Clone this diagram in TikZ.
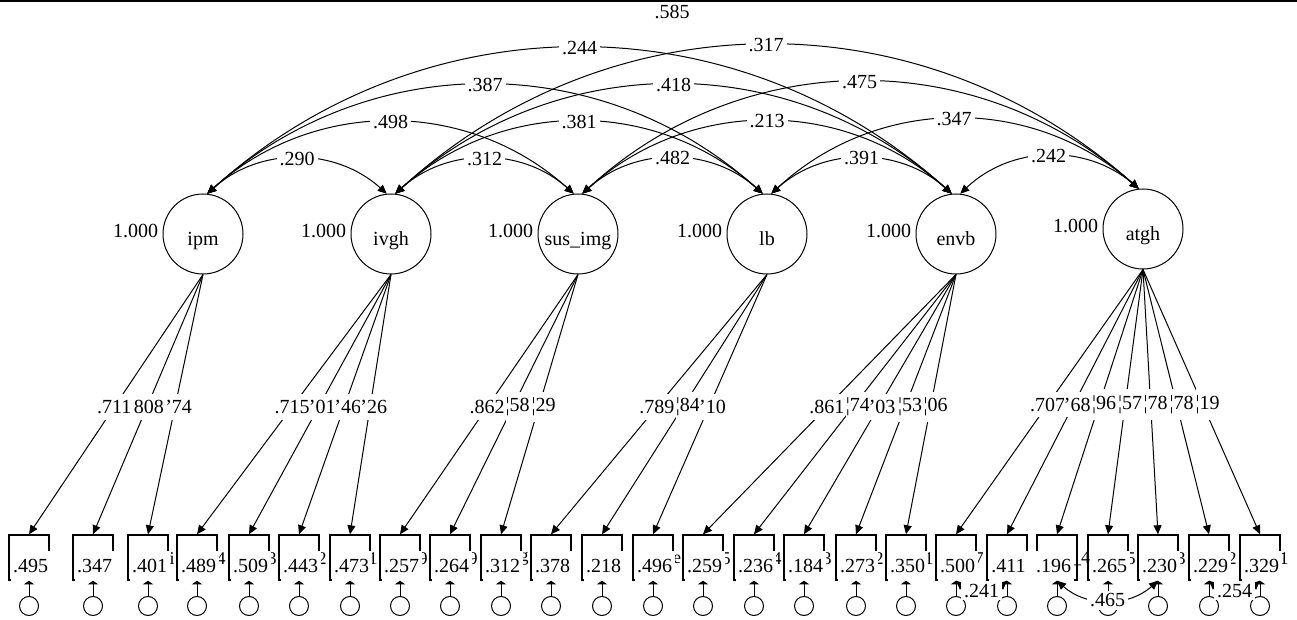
\documentclass[tikz,border=0pt]{standalone}
\usepackage{fontspec}
\setmainfont{Liberation Serif}
\usetikzlibrary{arrows.meta}

\begin{document}
\begin{tikzpicture}[
    x=0.5pt, y=-0.5pt,
    font=\fontsize{10}{12}\selectfont,
    >={Triangle[length=4.5pt,width=4pt]},
    Lat/.style={circle, draw, line width=0.5pt, minimum size=40pt, inner sep=0pt, text height=11.5pt, text depth=0pt, label={[Vlbl]left:1.000}},
    Vlbl/.style={inner sep=2pt, text height=, text depth=, yshift=1.5pt},
    Obox/.style={rectangle, draw, line width=0.7pt, minimum width=20pt, minimum height=22.5pt, inner sep=0pt},
    Ecirc/.style={circle, draw, line width=0.5pt, minimum size=9.5pt, inner sep=0pt},
    ld/.style={->, line width=0.5pt},
    cv/.style={<->, line width=0.5pt},
    ep/.style={-{Triangle[length=1.8pt,width=5pt]}, line width=0.5pt},
    Wl/.style={fill=white, inner xsep=0.5pt, inner ysep=3pt, pos=.51},
    Wf/.style={Wl, inner xsep=0pt, anchor=east, xshift=8.75pt},
    Cw/.style={fill=white, inner sep=1.5pt},
    R2/.style={fill=white, inner xsep=1.25pt, inner ysep=0pt, minimum height=15pt},
    res/.style={font=\fontsize{9}{10}\selectfont, inner sep=0pt},
]
\useasboundingbox (0,0) rectangle (1297,620);
\draw[line width=0.75pt] (0,1) -- (1297,1);

% latent variables
\node[Lat] (ipm) at (203,234) {ipm};
\node[Lat] (ivgh) at (391,234) {ivgh};
\node[Lat] (sus) at (578,234) {sus\_img};
\node[Lat] (lb) at (767,234) {lb};
\node[Lat] (envb) at (956,234) {envb};
\node[Lat] (atgh) at (1143,229) {atgh};

% observed indicators
\node[Obox] (b1) at (29,557.5) {};
\node[Obox] (b2) at (93,557.5) {};
\node[Obox] (b3) at (148,557.5) {};
\node[Obox] (b4) at (197,557.5) {};
\node[Obox] (b5) at (249,557.5) {};
\node[Obox] (b6) at (299,557.5) {};
\node[Obox] (b7) at (350,557.5) {};
\node[Obox] (b8) at (400,557.5) {};
\node[Obox] (b9) at (450,557.5) {};
\node[Obox] (b10) at (501,557.5) {};
\node[Obox] (b11) at (551,557.5) {};
\node[Obox] (b12) at (602,557.5) {};
\node[Obox] (b13) at (653,557.5) {};
\node[Obox] (b14) at (703,557.5) {};
\node[Obox] (b15) at (754,557.5) {};
\node[Obox] (b16) at (804,557.5) {};
\node[Obox] (b17) at (856,557.5) {};
\node[Obox] (b18) at (906,557.5) {};
\node[Obox] (b19) at (956,557.5) {};
\node[Obox] (b20) at (1007,557.5) {};
\node[Obox] (b21) at (1057,557.5) {};
\node[Obox] (b22) at (1108,557.5) {};
\node[Obox] (b23) at (1158,557.5) {};
\node[Obox] (b24) at (1209,557.5) {};
\node[Obox] (b25) at (1260,557.5) {};

% name ends that stick out
\node[res] (n3) at (172,559) {i};
\node[res] (n4) at (221,559) {4};
\node[res] (n5) at (272,559) {3};
\node[res] (n6) at (322,559) {2};
\node[res] (n7) at (373,559) {1};
\node[res] (n8) at (423,559) {9};
\node[res] (n9) at (473,559) {9};
\node[res] (n10) at (524,559) {g};
\node[res] (n13) at (677,559) {e};
\node[res] (n14) at (726,559) {5};
\node[res] (n15) at (777,559) {4};
\node[res] (n16) at (827,559) {3};
\node[res] (n17) at (879,559) {2};
\node[res] (n18) at (929,559) {1};
\node[res] (n19) at (979,559) {7};
\node[res] (n21) at (1081,559) {\_4};
\node[res] (n22) at (1131,559) {5};
\node[res] (n23) at (1181,559) {3};
\node[res] (n24) at (1232,559) {2};
\node[res] (n25) at (1284,559) {1};

% squared multiple correlations
\node[R2] (r1) at (30.5,566) {.495};
\node[R2] (r2) at (94.5,566) {.347};
\node[R2] (r3) at (149.5,566) {.401};
\node[R2] (r4) at (198.5,566) {.489};
\node[R2] (r5) at (250.5,566) {.509};
\node[R2] (r6) at (300.5,566) {.443};
\node[R2] (r7) at (351.5,566) {.473};
\node[R2] (r8) at (401.5,566) {.257};
\node[R2] (r9) at (451.5,566) {.264};
\node[R2] (r10) at (502.5,566) {.312};
\node[R2] (r11) at (552.5,566) {.378};
\node[R2] (r12) at (603.5,566) {.218};
\node[R2] (r13) at (654.5,566) {.496};
\node[R2] (r14) at (704.5,566) {.259};
\node[R2] (r15) at (755.5,566) {.236};
\node[R2] (r16) at (805.5,566) {.184};
\node[R2] (r17) at (857.5,566) {.273};
\node[R2] (r18) at (907.5,566) {.350};
\node[R2] (r19) at (957.5,566) {.500};
\node[R2] (r20) at (1008.5,566) {.411};
\node[R2] (r21) at (1053.5,566) {.196};
\node[R2] (r22) at (1109.5,566) {.265};
\node[R2] (r23) at (1159.5,566) {.230};
\node[R2] (r24) at (1210.5,566) {.229};
\node[R2] (r25) at (1261.5,566) {.329};

% loadings
\draw[ld] (ipm.south) -- node[Wl]{.711} (b1.north);
\draw[ld] (ipm.south) -- node[Wf]{808} (b2.north);
\draw[ld] (ipm.south) -- node[Wf]{'74} (b3.north);
\draw[ld] (ivgh.south) -- node[Wl]{.715} (b4.north);
\draw[ld] (ivgh.south) -- node[Wf]{'01} (b5.north);
\draw[ld] (ivgh.south) -- node[Wf]{'46} (b6.north);
\draw[ld] (ivgh.south) -- node[Wf]{'26} (b7.north);
\draw[ld] (sus.south) -- node[Wl]{.862} (b8.north);
\draw[ld] (sus.south) -- node[Wf]{¦58} (b9.north);
\draw[ld] (sus.south) -- node[Wf]{¦29} (b10.north);
\draw[ld] (lb.south) -- node[Wl]{.789} (b11.north);
\draw[ld] (lb.south) -- node[Wf]{¦84} (b12.north);
\draw[ld] (lb.south) -- node[Wf]{'10} (b13.north);
\draw[ld] (envb.south) -- node[Wl]{.861} (b14.north);
\draw[ld] (envb.south) -- node[Wf]{¦74} (b15.north);
\draw[ld] (envb.south) -- node[Wf]{'03} (b16.north);
\draw[ld] (envb.south) -- node[Wf]{¦53} (b17.north);
\draw[ld] (envb.south) -- node[Wf]{¦06} (b18.north);
\draw[ld] (atgh.south) -- node[Wl]{.707} (b19.north);
\draw[ld] (atgh.south) -- node[Wf]{'68} (b20.north);
\draw[ld] (atgh.south) -- node[Wf]{¦96} (b21.north);
\draw[ld] (atgh.south) -- node[Wf]{¦57} (b22.north);
\draw[ld] (atgh.south) -- node[Wf]{¦78} (b23.north);
\draw[ld] (atgh.south) -- node[Wf]{¦78} (b24.north);
\draw[ld] (atgh.south) -- node[Wf]{¦19} (b25.north);

% error terms
\node[Ecirc] (e1) at (29,606) {};
\node[Ecirc] (e2) at (93,606) {};
\node[Ecirc] (e3) at (148,606) {};
\node[Ecirc] (e4) at (197,606) {};
\node[Ecirc] (e5) at (249,606) {};
\node[Ecirc] (e6) at (299,606) {};
\node[Ecirc] (e7) at (350,606) {};
\node[Ecirc] (e8) at (400,606) {};
\node[Ecirc] (e9) at (450,606) {};
\node[Ecirc] (e10) at (501,606) {};
\node[Ecirc] (e11) at (551,606) {};
\node[Ecirc] (e12) at (602,606) {};
\node[Ecirc] (e13) at (653,606) {};
\node[Ecirc] (e14) at (703,606) {};
\node[Ecirc] (e15) at (754,606) {};
\node[Ecirc] (e16) at (804,606) {};
\node[Ecirc] (e17) at (856,606) {};
\node[Ecirc] (e18) at (906,606) {};
\node[Ecirc] (e19) at (956,606) {};
\node[Ecirc] (e20) at (1007,606) {};
\node[Ecirc] (e21) at (1057,606) {};
\node[Ecirc] (e22) at (1108,606) {};
\node[Ecirc] (e23) at (1158,606) {};
\node[Ecirc] (e24) at (1209,606) {};
\node[Ecirc] (e25) at (1260,606) {};
\draw[ep] (e1) -- (b1);
\draw[ep] (e2) -- (b2);
\draw[ep] (e3) -- (b3);
\draw[ep] (e4) -- (b4);
\draw[ep] (e5) -- (b5);
\draw[ep] (e6) -- (b6);
\draw[ep] (e7) -- (b7);
\draw[ep] (e8) -- (b8);
\draw[ep] (e9) -- (b9);
\draw[ep] (e10) -- (b10);
\draw[ep] (e11) -- (b11);
\draw[ep] (e12) -- (b12);
\draw[ep] (e13) -- (b13);
\draw[ep] (e14) -- (b14);
\draw[ep] (e15) -- (b15);
\draw[ep] (e16) -- (b16);
\draw[ep] (e17) -- (b17);
\draw[ep] (e18) -- (b18);
\draw[ep] (e19) -- (b19);
\draw[ep] (e20) -- (b20);
\draw[ep] (e21) -- (b21);
\draw[ep] (e22) -- (b22);
\draw[ep] (e23) -- (b23);
\draw[ep] (e24) -- (b24);
\draw[ep] (e25) -- (b25);

% error covariances
\draw[cv] (b19.south) to[bend right=42] node[Cw]{.241} (b20.south);
\draw[cv] (b21.south) to[bend right=42] node[Cw]{.465} (b23.south);
\draw[cv] (b24.south) to[bend right=42] node[Cw]{.254} (b25.south);

% factor covariances, widest first
\node[Cw] (c15) at (672,12) {.585};
\draw[cv] (ipm.84) to[bend left=42] node[Cw]{.244} (envb.96);
\draw[cv] (ivgh.84) to[bend left=42] node[Cw]{.317} (atgh.96);
\draw[cv] (ipm.84) to[bend left=42] node[Cw]{.387} (lb.96);
\draw[cv] (ivgh.84) to[bend left=42] node[Cw]{.418} (envb.96);
\draw[cv] (sus.84) to[bend left=42] node[Cw]{.475} (atgh.96);
\draw[cv] (ipm.84) to[bend left=42] node[Cw]{.498} (sus.96);
\draw[cv] (ivgh.84) to[bend left=42] node[Cw]{.381} (lb.96);
\draw[cv] (sus.84) to[bend left=42] node[Cw]{.213} (envb.96);
\draw[cv] (lb.84) to[bend left=42] node[Cw]{.347} (atgh.96);
\draw[cv] (ipm.84) to[bend left=42] node[Cw]{.290} (ivgh.96);
\draw[cv] (ivgh.84) to[bend left=42] node[Cw]{.312} (sus.96);
\draw[cv] (sus.84) to[bend left=42] node[Cw]{.482} (lb.96);
\draw[cv] (lb.84) to[bend left=42] node[Cw]{.391} (envb.96);
\draw[cv] (envb.84) to[bend left=42] node[Cw]{.242} (atgh.96);
\end{tikzpicture}
\end{document}
